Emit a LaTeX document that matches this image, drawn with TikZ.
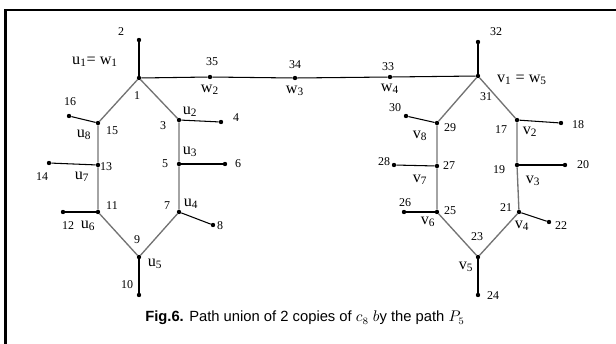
\documentclass[tikz,border=0pt]{standalone}
\usepackage{fontspec}
\setmainfont{Liberation Serif}
\newfontfamily\capfont{Liberation Sans}
\begin{document}
\begin{tikzpicture}[x=0.025cm,y=-0.025cm,
 vertex/.style={circle,fill=black,inner sep=0pt,minimum size=3.1pt},
 num/.style={font=\fontsize{8.5}{10}\selectfont,inner sep=0.5pt},
 vname/.style={font=\fontsize{11.5}{13}\selectfont,inner sep=0.5pt},
 cyc/.style={draw=black!55,line width=0.95pt},
 leg/.style={draw=black,line width=0.75pt}
]
\useasboundingbox (0,0) rectangle (616,343);
\draw[line width=1.6pt] (5.5,350) -- (5.5,10) -- (630,10);
% left copy of c_8
\node[vertex] (n1) at (139,78) {};
\node[vertex] (n2) at (139,40) {};
\node[vertex] (n3) at (179,120) {};
\node[vertex] (n4) at (221,122) {};
\node[vertex] (n5) at (179,164) {};
\node[vertex] (n6) at (225,164) {};
\node[vertex] (n7) at (179,212) {};
\node[vertex] (n8) at (213,225) {};
\node[vertex] (n9) at (139,257) {};
\node[vertex] (n10) at (139,295) {};
\node[vertex] (n11) at (98,212) {};
\node[vertex] (n12) at (63,212) {};
\node[vertex] (n13) at (98,165) {};
\node[vertex] (n14) at (49,163) {};
\node[vertex] (n15) at (98,123) {};
\node[vertex] (n16) at (69,116) {};
% path P_5
\node[vertex] (n35) at (210,77) {};
\node[vertex] (n34) at (295,78) {};
\node[vertex] (n33) at (390,77) {};
% right copy of c_8
\node[vertex] (n31) at (478,76) {};
\node[vertex] (n32) at (478,42) {};
\node[vertex] (n17) at (517,120) {};
\node[vertex] (n18) at (561,123) {};
\node[vertex] (n19) at (517,165) {};
\node[vertex] (n20) at (565,165) {};
\node[vertex] (n21) at (519,212) {};
\node[vertex] (n22) at (549,222) {};
\node[vertex] (n23) at (478,257) {};
\node[vertex] (n24) at (478,295) {};
\node[vertex] (n25) at (437,212) {};
\node[vertex] (n26) at (404,212) {};
\node[vertex] (n27) at (437,166) {};
\node[vertex] (n28) at (394,165) {};
\node[vertex] (n29) at (437,123) {};
\node[vertex] (n30) at (406,116) {};
\draw[cyc] (n1) -- (n3) -- (n5) -- (n7) -- (n9) -- (n11) -- (n13) -- (n15) -- (n1);
\draw[cyc] (n31) -- (n17) -- (n19) -- (n21) -- (n23) -- (n25) -- (n27) -- (n29) -- (n31);
\draw[leg] (n1) -- (n35) -- (n34) -- (n33) -- (n31);
\draw[leg] (n1) -- (n2);
\draw[leg] (n3) -- (n4);
\draw[leg] (n5) -- (n6);
\draw[leg] (n7) -- (n8);
\draw[leg] (n9) -- (n10);
\draw[leg] (n11) -- (n12);
\draw[leg] (n13) -- (n14);
\draw[leg] (n15) -- (n16);
\draw[leg] (n31) -- (n32);
\draw[leg] (n17) -- (n18);
\draw[leg] (n19) -- (n20);
\draw[leg] (n21) -- (n22);
\draw[leg] (n23) -- (n24);
\draw[leg] (n25) -- (n26);
\draw[leg] (n27) -- (n28);
\draw[leg] (n29) -- (n30);
% vertex numbers
\node[num] (t1) at (137,96) {1};
\node[num] (t2) at (121,32) {2};
\node[num] (t3) at (163,126) {3};
\node[num] (t4) at (236,118) {4};
\node[num] (t5) at (165,164) {5};
\node[num] (t6) at (238,164) {6};
\node[num] (t7) at (167,206) {7};
\node[num] (t8) at (220,226) {8};
\node[num] (t9) at (137,240) {9};
\node[num] (t10) at (127,285) {10};
\node[num] (t11) at (112,206) {11};
\node[num] (t12) at (68,226) {12};
\node[num] (t13) at (106,167) {13};
\node[num] (t14) at (42,177) {14};
\node[num] (t15) at (112,131) {15};
\node[num] (t16) at (70,102) {16};
\node[num] (t35) at (212,62) {35};
\node[num] (t34) at (295,65) {34};
\node[num] (t33) at (388,67) {33};
\node[num] (t31) at (486,97) {31};
\node[num] (t32) at (496,32) {32};
\node[num] (t17) at (501,130) {17};
\node[num] (t18) at (578,125) {18};
\node[num] (t19) at (499,170) {19};
\node[num] (t20) at (583,165) {20};
\node[num] (t21) at (506,208) {21};
\node[num] (t22) at (561,226) {22};
\node[num] (t23) at (477,237) {23};
\node[num] (t24) at (493,296) {24};
\node[num] (t25) at (450,211) {25};
\node[num] (t26) at (405,203) {26};
\node[num] (t27) at (449,166) {27};
\node[num] (t28) at (384,162) {28};
\node[num] (t29) at (450,128) {29};
\node[num] (t30) at (395,108) {30};
% vertex names
\node[vname] (lu1) at (95,62) {u\textsubscript{1}= w\textsubscript{1}};
\node[vname] (lw2) at (210,90) {w\textsubscript{2}};
\node[vname] (lw3) at (295,91) {w\textsubscript{3}};
\node[vname] (lw4) at (390,89) {w\textsubscript{4}};
\node[vname] (lu2) at (190,112) {u\textsubscript{2}};
\node[vname] (lu3) at (190,152) {u\textsubscript{3}};
\node[vname] (lu4) at (191,204) {u\textsubscript{4}};
\node[vname] (lu5) at (155,264) {u\textsubscript{5}};
\node[vname] (lu6) at (88,226) {u\textsubscript{6}};
\node[vname] (lu7) at (82,177) {u\textsubscript{7}};
\node[vname] (lu8) at (84,135) {u\textsubscript{8}};
\node[vname] (lv1) at (522,80) {v\textsubscript{1} = w\textsubscript{5}};
\node[vname] (lv2) at (530,132) {v\textsubscript{2}};
\node[vname] (lv3) at (533,181) {v\textsubscript{3}};
\node[vname] (lv4) at (522,226) {v\textsubscript{4}};
\node[vname] (lv5) at (466,267) {v\textsubscript{5}};
\node[vname] (lv6) at (428,222) {v\textsubscript{6}};
\node[vname] (lv7) at (420,180) {v\textsubscript{7}};
\node[vname] (lv8) at (420,136) {v\textsubscript{8}};
% caption
\node[font=\capfont\fontsize{10.5}{12}\selectfont] (caption) at (305,318)
 {\textbf{Fig.6.} Path union of 2 copies of $c_8$ $b$y the path $P_5$};
\end{tikzpicture}
\end{document}
